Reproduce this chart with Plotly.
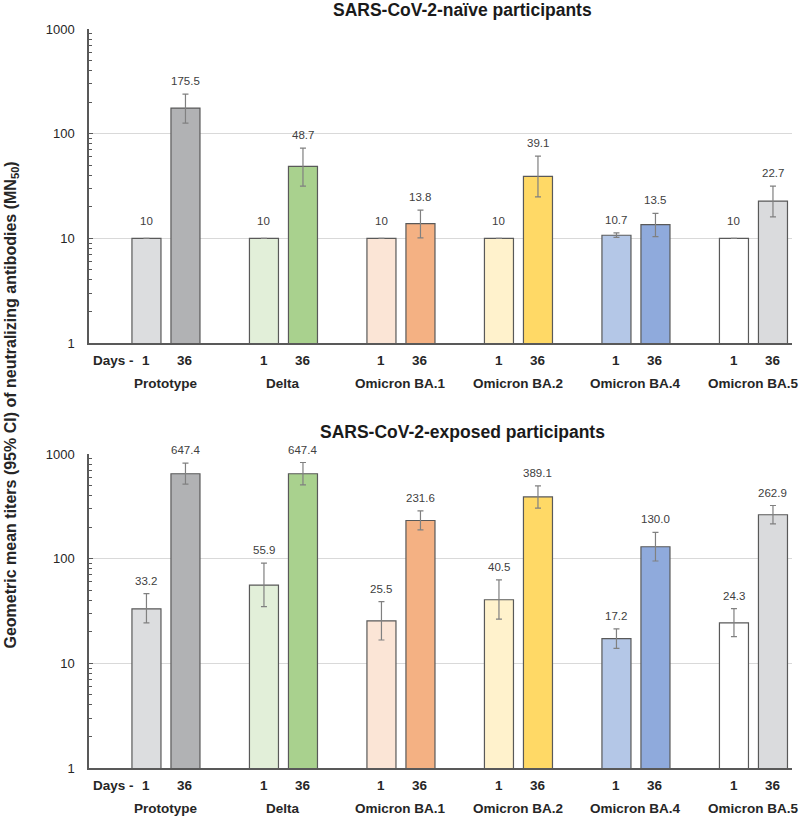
import math
import plotly.graph_objects as go

# ---------------- data ----------------
groups = ["Prototype", "Delta", "Omicron BA.1", "Omicron BA.2", "Omicron BA.4", "Omicron BA.5"]
day_labels = ["1", "36"]

naive_d1 = [10, 10, 10, 10, 10.7, 10]
naive_d1_hi = [10, 10, 10, 10, 11.3, 10]
naive_d1_lo = [10, 10, 10, 10, 10.2, 10]
naive_d1_txt = ["10", "10", "10", "10", "10.7", "10"]

naive_d36 = [175.5, 48.7, 13.8, 39.1, 13.5, 22.7]
naive_d36_hi = [239, 72.8, 18.6, 61, 17.3, 31.6]
naive_d36_lo = [126, 31.6, 10.1, 24.9, 10.4, 16.0]
naive_d36_txt = ["175.5", "48.7", "13.8", "39.1", "13.5", "22.7"]

exp_d1 = [33.2, 55.9, 25.5, 40.5, 17.2, 24.3]
exp_d1_hi = [46.4, 90.6, 38.9, 62.7, 21.3, 33.3]
exp_d1_lo = [24.3, 34.8, 16.7, 26.4, 13.9, 18.0]
exp_d1_txt = ["33.2", "55.9", "25.5", "40.5", "17.2", "24.3"]

exp_d36 = [647.4, 647.4, 231.6, 389.1, 130.0, 262.9]
exp_d36_hi = [818, 829, 286, 497, 178, 322]
exp_d36_lo = [515, 508, 188, 304, 95, 215]
exp_d36_txt = ["647.4", "647.4", "231.6", "389.1", "130.0", "262.9"]

colors_d1 = ["#dcdddf", "#e2efd9", "#fbe5d6", "#fff2cc", "#b4c7e7", "#ffffff"]
colors_d36 = ["#b1b2b4", "#a9d18e", "#f4b183", "#ffd966", "#8faadc", "#dadbdd"]

panel_titles = ["SARS-CoV-2-naïve participants", "SARS-CoV-2-exposed participants"]
y_title = "Geometric mean titers (95% CI) of neutralizing antibodies (MN<sub>50</sub>)"
ytick_vals = [1, 10, 100, 1000]
ytick_text = ["1", "10", "100", "1000"]
yminor_vals = [m * 10 ** d for d in range(3) for m in range(2, 10)]

# ---------------- figure ----------------
W, H = 800, 817
FONT = "Liberation Sans, Arial, sans-serif"
fig = go.Figure()

panels = [
    (naive_d1, naive_d1_hi, naive_d1_lo, naive_d1_txt, naive_d36, naive_d36_hi, naive_d36_lo, naive_d36_txt),
    (exp_d1, exp_d1_hi, exp_d1_lo, exp_d1_txt, exp_d36, exp_d36_hi, exp_d36_lo, exp_d36_txt),
]

annotations = []
OFF = 19.5  # px offset of day bars from group centre

for p, (v1, h1, l1, t1, v36, h36, l36, t36) in enumerate(panels):
    xa = "x" if p == 0 else "x2"
    ya = "y" if p == 0 else "y2"
    for k, (vals, hi, lo, cols, txts) in enumerate([(v1, h1, l1, colors_d1, t1), (v36, h36, l36, colors_d36, t36)]):
        fig.add_trace(go.Bar(
            x=groups, y=vals, xaxis=xa, yaxis=ya, showlegend=False,
            marker=dict(color=cols, line=dict(color="#595959", width=1.2)),
            error_y=dict(type="data", symmetric=False,
                         array=[h - v for h, v in zip(hi, vals)],
                         arrayminus=[v - l for v, l in zip(vals, lo)],
                         color="#808080", thickness=1.2, width=3),
            hoverinfo="skip",
        ))
        for g, v, hval, txt in zip(groups, vals, hi, txts):
            annotations.append(dict(
                x=g, y=math.log10(hval), xref=xa, yref=ya, text=txt, showarrow=False,
                xshift=(-OFF if k == 0 else OFF), yshift=(17 if hval == v else 13), yanchor="middle",
                font=dict(family=FONT, size=11.5, color="#404040")))
    dom = ya + " domain"
    for g in groups:
        for k, d in enumerate(day_labels):
            annotations.append(dict(
                x=g, y=0, xref=xa, yref=dom, text="<b>%s</b>" % d, showarrow=False,
                xshift=(-OFF if k == 0 else OFF), yshift=-17, yanchor="middle",
                font=dict(family=FONT, size=13.5, color="#262626")))
        annotations.append(dict(
            x=g, y=0, xref=xa, yref=dom, text="<b>%s</b>" % g, showarrow=False,
            yshift=-40, yanchor="middle",
            font=dict(family=FONT, size=13.5, color="#262626")))
    annotations.append(dict(
        x=groups[0], y=0, xref=xa, yref=dom, text="<b>Days -</b>", showarrow=False,
        xshift=-30, yshift=-17, xanchor="right", yanchor="middle",
        font=dict(family=FONT, size=13.5, color="#262626")))

# panel titles
for t, yc in zip(panel_titles, [10, 432]):
    annotations.append(dict(x=462 / W, y=1 - yc / H, xref="paper", yref="paper", text="<b>%s</b>" % t,
                            showarrow=False, xanchor="center", yanchor="middle",
                            font=dict(family=FONT, size=17.5, color="#1a1a1a")))
# y-axis title
annotations.append(dict(x=11 / W, y=1 - 405.5 / H, xref="paper", yref="paper", text="<b>%s</b>" % y_title,
                        showarrow=False, textangle=-90, xanchor="center", yanchor="middle",
                        font=dict(family=FONT, size=16, color="#262626")))

x_dom = [89 / W, 792 / W]
top_dom = [1 - 343 / H, 1 - 29 / H]
bot_dom = [1 - 768 / H, 1 - 454 / H]
xrange = [-0.655, 5.328]

xax = dict(type="category", range=xrange, showticklabels=False, ticks="", showgrid=False,
           showline=True, linecolor="#595959", linewidth=1.5, zeroline=False, fixedrange=True)
yax = dict(type="log", range=[0, 3], tickvals=ytick_vals, ticktext=ytick_text,
           ticks="inside", ticklen=4, tickcolor="#595959",
           minor=dict(tickvals=yminor_vals, ticks="inside", ticklen=3, tickcolor="#595959", showgrid=False),
           showgrid=True, gridcolor="#d9d9d9", gridwidth=1,
           showline=True, linecolor="#595959", linewidth=1.5, zeroline=False,
           tickfont=dict(family=FONT, size=13, color="#262626"),
           ticklabelstandoff=10, fixedrange=True)

fig.update_layout(
    width=W, height=H,
    margin=dict(l=0, r=0, t=0, b=0, autoexpand=False),
    paper_bgcolor="white", plot_bgcolor="white",
    barmode="group", bargap=0.336, bargroupgap=0.256,
    xaxis=dict(xax, domain=x_dom, anchor="y"),
    yaxis=dict(yax, domain=top_dom, anchor="x"),
    xaxis2=dict(xax, domain=x_dom, anchor="y2"),
    yaxis2=dict(yax, domain=bot_dom, anchor="x2"),
    annotations=annotations,
    font=dict(family=FONT),
)

fig.write_html("out.html", config={"displayModeBar": False},
               post_script="document.body.style.margin='0px';")
